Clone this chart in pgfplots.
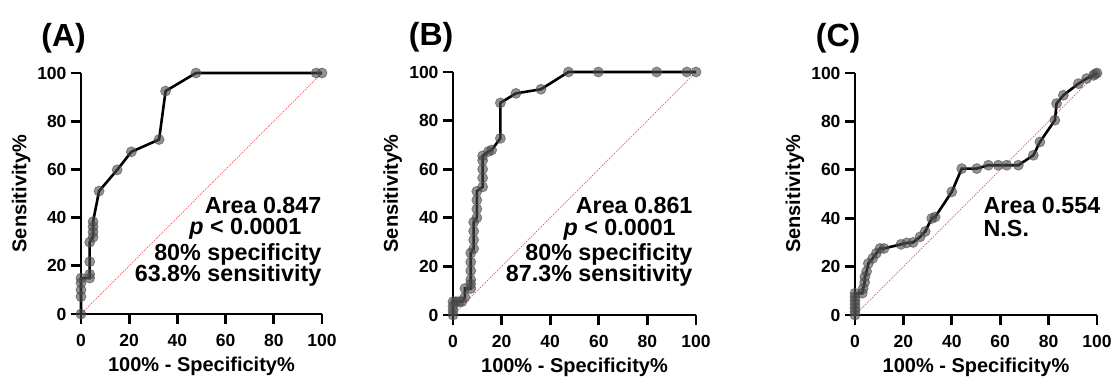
\documentclass[border=0pt]{standalone}
\usepackage{pgfplots}
\pgfplotsset{compat=1.18}
\usepackage{fontspec}
\setmainfont{Liberation Sans}
\definecolor{diag}{RGB}{245,100,100}
\definecolor{mk}{RGB}{75,75,75}
\tikzset{
 ann/.style={font=\bfseries\fontsize{23.3}{23.3}\selectfont},
 ttl/.style={font=\bfseries\fontsize{32}{32}\selectfont, anchor=base},
}
\pgfplotsset{
 roc/.style={
  scale only axis,
  anchor=south west,
  xmin=0,xmax=100,ymin=0,ymax=100,
  axis lines=left,
  axis line style={-, line width=2.8pt},
  xtick={0,20,...,100}, ytick={0,20,...,100},
  tick align=outside,
  major tick length=10pt,
  every tick/.style={black, line width=2.8pt},
  tick label style={font=\bfseries\fontsize{17.5}{17.5}\selectfont},
  xticklabel style={yshift=-7pt},
  yticklabel style={xshift=-1pt},
  /pgf/number format/assume math mode=true,
  xlabel={100\% - Specificity\%},
  ylabel={Sensitivity\%},
  label style={font=\bfseries\fontsize{20}{20}\selectfont},
  xlabel style={at={(axis description cs:0.5,-0.237)}, anchor=base},
  ylabel style={at={(axis description cs:-0.248,0.5)}, anchor=center},
  clip=false,
 },
 rocline/.style={black, line width=2.6pt, mark=*, mark size=5pt,
   mark options={fill=mk, fill opacity=0.6, draw=mk, draw opacity=0.6, line width=0.8pt}},
 diagline/.style={diag, line width=0.9pt, dash pattern=on 1.2pt off 1.2pt},
}
\begin{document}
\begin{tikzpicture}
\path[use as bounding box] (0,0) rectangle (1115pt,376pt);
% ---------------- (A)
\begin{axis}[roc, at={(81pt,62pt)}, width=241pt, height=241pt]
\addplot[diagline] coordinates {(0,0) (100,100)};
\addplot[rocline] coordinates {
(0,0) (0,7.2) (0,10.0) (0,12.9) (0,14.9) (3.6,14.9) (3.6,16.5) (3.6,21.7)
(3.6,29.8) (5.0,31.9) (5.0,34.0) (5.0,36.2) (5.0,38.3) (7.5,51.0)
(15.0,59.8) (20.9,67.3) (32.4,72.4) (35.1,92.5) (47.7,100) (97.6,100) (100,100)};
\node[ttl] at (axis cs:-7.2,111) {(A)};
\node[ann, anchor=base east] at (axis cs:101.2,41.8) {Area 0.847};
\node[ann, anchor=base east] at (axis cs:92.9,32.8) {\itshape p\upshape\ < 0.0001};
\node[ann, anchor=base east] at (axis cs:101.2,22.4) {80\% specificity};
\node[ann, anchor=base east] at (axis cs:101.2,13.4) {63.8\% sensitivity};
\end{axis}
% ---------------- (B)
\begin{axis}[roc, at={(453pt,61pt)}, width=243pt, height=243pt]
\addplot[diagline] coordinates {(0,0) (100,100)};
\addplot[rocline] coordinates {
(0,0) (0,1.8) (0,3.6) (0,5.5) (1.2,5.5) (2.5,5.5) (3.7,5.5) (4.9,7.3) (4.9,10.9)
(7.3,10.9) (7.3,12.7) (7.3,14.5) (7.3,18.2) (7.3,21.8) (7.3,25.5)
(8.5,27.3) (8.5,30.9) (8.5,34.5) (8.5,38.2) (9.8,40.0) (9.8,43.6) (9.8,47.3) (9.8,50.9)
(12.2,52.7) (12.2,56.4) (12.2,60.0) (12.2,63.6) (12.2,65.5) (14.6,67.3) (15.9,67.9)
(19.5,72.7) (19.5,87.3) (25.9,91.2) (36.2,92.9) (47.5,100) (59.8,100) (83.8,100) (96.2,100) (100,100)};
\node[ttl] at (axis cs:-9.0,111) {(B)};
\node[ann, anchor=base east] at (axis cs:100,41.9) {Area 0.861};
\node[ann, anchor=base east] at (axis cs:93.1,32.9) {\itshape p\upshape\ < 0.0001};
\node[ann, anchor=base east] at (axis cs:100,22.6) {80\% specificity};
\node[ann, anchor=base east] at (axis cs:100,13.7) {87.3\% sensitivity};
\end{axis}
% ---------------- (C)
\begin{axis}[roc, at={(855pt,61pt)}, width=242pt, height=242pt]
\addplot[diagline] coordinates {(0,0) (100,100)};
\addplot[rocline] coordinates {
(0,0) (0,1.5) (0,3) (0,4.5) (0,6) (0,7.5) (0,9) (3,9) (3.4,11) (4,13.5) (4.1,15.8)
(4.8,18) (5.5,21.3) (7.3,23.4) (8.8,25.5) (10.3,27.5) (12,27.5) (19,29.2) (21.4,29.8)
(24,30) (26.9,32.3) (29,34.5) (31.7,39.9) (33.1,40.5) (40,50.9) (44.1,60.5) (50.3,60.5)
(55.1,61.9) (59.2,61.9) (62.7,61.9) (67.5,61.9) (73.7,66.0) (76.4,71.5) (82.6,80.5)
(83.3,87.4) (86.1,90.8) (92.3,95.6) (95.7,97.7) (98.5,99) (99.3,99.6) (100,100)};
\node[ttl] at (axis cs:-7.0,111) {(C)};
\node[ann, anchor=base west] at (axis cs:51.7,42.0) {Area 0.554};
\node[ann, anchor=base west] at (axis cs:51.7,32.3) {N.S.};
\end{axis}
\end{tikzpicture}
\end{document}
